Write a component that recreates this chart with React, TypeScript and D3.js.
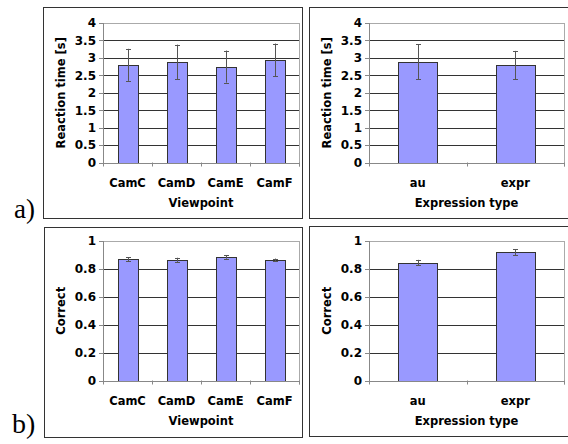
import React from 'react'
import { scaleBand, scaleLinear } from 'd3'

// values
const viewpoints = ['CamC', 'CamD', 'CamE', 'CamF']
const exprTypes = ['au', 'expr']

const rtByViewpoint = [2.8, 2.88, 2.75, 2.94]
const rtByViewpointErr = [0.46, 0.5, 0.46, 0.47]
const rtByExpr = [2.89, 2.79]
const rtByExprErr = [0.5, 0.41]

const correctByViewpoint = [0.87, 0.865, 0.885, 0.865]
const correctByViewpointErr = [0.014, 0.015, 0.012, 0.009]
const correctByExpr = [0.845, 0.92]
const correctByExprErr = [0.02, 0.02]

const rtTicks = [0, 0.5, 1, 1.5, 2, 2.5, 3, 3.5, 4]
const correctTicks = [0, 0.2, 0.4, 0.6, 0.8, 1]

const FONT = '"DejaVu Sans", Verdana, sans-serif'

type PanelProps = {
    box: [number, number, number, number]
    plot: { left: number, right: number, top: number, bottom: number }
    cats: string[]
    values: number[]
    errs: number[]
    ticks: number[]
    yTitle: string
    xTitle: string
}

const Panel = ({ box, plot, cats, values, errs, ticks, yTitle, xTitle }: PanelProps) => {
    const x = scaleBand().domain(cats).range([plot.left, plot.right]).paddingInner(0).paddingOuter(0)
    const y = scaleLinear().domain([0, ticks[ticks.length - 1]]).range([plot.bottom, plot.top])
    const bw = x.bandwidth() * 0.4
    const cap = 2.5
    const edges = cats.map(c => x(c)).concat([plot.right])

    return (
        <g>
            <rect x={box[0]} y={box[1]} width={box[2] - box[0]} height={box[3] - box[1]}
                fill="#fff" stroke="#333" strokeWidth={1} />

            {/* grid */}
            {ticks.slice(1, -1).map(t => (
                <line key={'g' + t} x1={plot.left} x2={plot.right} y1={Math.round(y(t)) + 0.5} y2={Math.round(y(t)) + 0.5}
                    stroke="#333" strokeWidth={1} />
            ))}
            <line x1={plot.left} x2={plot.right} y1={plot.top + 0.5} y2={plot.top + 0.5} stroke="#aaa" />
            <line x1={plot.right + 0.5} x2={plot.right + 0.5} y1={plot.top} y2={plot.bottom + 4} stroke="#aaa" />

            {/* bars */}
            {cats.map((c, i) => {
                const cx = x(c) + x.bandwidth() / 2
                return (
                    <g key={c}>
                        <rect x={Math.round(cx - bw / 2) + 0.5} y={Math.round(y(values[i])) + 0.5}
                            width={Math.round(bw)} height={Math.round(y(0)) - Math.round(y(values[i]))}
                            fill="#9999ff" stroke="#333" strokeWidth={1} />
                        <line x1={Math.round(cx) + 0.5} x2={Math.round(cx) + 0.5}
                            y1={y(values[i] + errs[i])} y2={y(values[i] - errs[i])} stroke="#555" />
                        <line x1={Math.round(cx) + 0.5 - cap} x2={Math.round(cx) + 0.5 + cap}
                            y1={Math.round(y(values[i] + errs[i])) + 0.5} y2={Math.round(y(values[i] + errs[i])) + 0.5} stroke="#555" />
                        <line x1={Math.round(cx) + 0.5 - cap} x2={Math.round(cx) + 0.5 + cap}
                            y1={Math.round(y(values[i] - errs[i])) + 0.5} y2={Math.round(y(values[i] - errs[i])) + 0.5} stroke="#555" />
                    </g>
                )
            })}

            {/* axes */}
            <line x1={plot.left + 0.5} x2={plot.left + 0.5} y1={plot.top} y2={plot.bottom + 0.5} stroke="#888" />
            <line x1={plot.left} x2={plot.right} y1={Math.round(y(0)) + 0.5} y2={Math.round(y(0)) + 0.5} stroke="#888" />
            {ticks.map(t => (
                <g key={'t' + t}>
                    <line x1={plot.left - 4} x2={plot.left} y1={Math.round(y(t)) + 0.5} y2={Math.round(y(t)) + 0.5} stroke="#888" />
                    <text x={plot.left - 7} y={y(t)} dy="0.36em" textAnchor="end"
                        fontFamily={FONT} fontWeight="bold" fontSize={12}>{String(t)}</text>
                </g>
            ))}
            {edges.map((e, i) => (
                <line key={'x' + i} x1={Math.round(e) + 0.5} x2={Math.round(e) + 0.5}
                    y1={plot.bottom} y2={plot.bottom + 4} stroke="#888" />
            ))}
            {cats.map(c => (
                <text key={'l' + c} x={x(c) + x.bandwidth() / 2} y={plot.bottom + 24} textAnchor="middle"
                    fontFamily={FONT} fontWeight="bold" fontSize={11.5}>{c}</text>
            ))}
            <text x={(plot.left + plot.right) / 2} y={plot.bottom + 44} textAnchor="middle"
                fontFamily={FONT} fontWeight="bold" fontSize={11.5}>{xTitle}</text>
            <text transform={`translate(${plot.left - 42},${(plot.top + plot.bottom) / 2}) rotate(-90)`}
                dy="0.36em" textAnchor="middle"
                fontFamily={FONT} fontWeight="bold" fontSize={11.5}>{yTitle}</text>
        </g>
    )
}

const App = () => {
    const topPlotL = { left: 103, right: 299, top: 23, bottom: 162.5 }
    const topPlotR = { left: 369, right: 564, top: 23, bottom: 162.5 }
    const botPlotL = { left: 103, right: 299, top: 241, bottom: 380.5 }
    const botPlotR = { left: 369, right: 564, top: 241, bottom: 380.5 }

    return (
        <svg width={568} height={444} style={{ position: 'absolute', left: 0, top: 0, background: '#fff' }}>
            <Panel box={[43.5, 7.5, 302.5, 218.5]} plot={topPlotL} cats={viewpoints}
                values={rtByViewpoint} errs={rtByViewpointErr} ticks={rtTicks}
                yTitle="Reaction time [s]" xTitle="Viewpoint" />
            <Panel box={[309.5, 7.5, 590, 218.5]} plot={topPlotR} cats={exprTypes}
                values={rtByExpr} errs={rtByExprErr} ticks={rtTicks}
                yTitle="Reaction time [s]" xTitle="Expression type" />
            <Panel box={[44.5, 227.5, 302.5, 437.5]} plot={botPlotL} cats={viewpoints}
                values={correctByViewpoint} errs={correctByViewpointErr} ticks={correctTicks}
                yTitle="Correct" xTitle="Viewpoint" />
            <Panel box={[309.5, 226.5, 590, 436.5]} plot={botPlotR} cats={exprTypes}
                values={correctByExpr} errs={correctByExprErr} ticks={correctTicks}
                yTitle="Correct" xTitle="Expression type" />

            <text x={14} y={218} fontFamily='"Liberation Serif", "Times New Roman", serif' fontSize={27}>a)</text>
            <text x={12} y={433} fontFamily='"Liberation Serif", "Times New Roman", serif' fontSize={28}>b)</text>
        </svg>
    )
}

export default App
